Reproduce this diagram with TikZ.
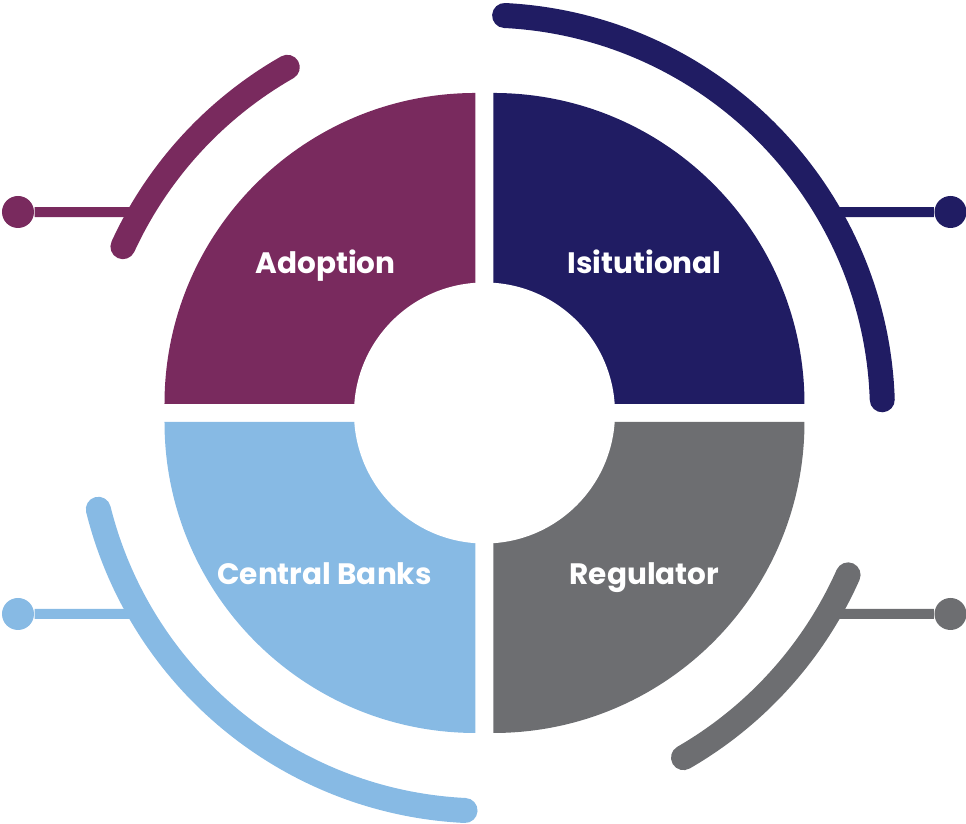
\documentclass[tikz,border=0pt]{standalone}
\usepackage{fontspec}
\setmainfont{Poppins}
\usetikzlibrary{calc}

\definecolor{adoptcol}{HTML}{792A5E}
\definecolor{instcol}{HTML}{201C63}
\definecolor{bankcol}{HTML}{87BAE4}
\definecolor{regcol}{HTML}{6D6E71}

\begin{document}
\begin{tikzpicture}[
    qtext/.style={text=white, font=\fontsize{8.4}{10}\selectfont\bfseries, anchor=base, inner sep=0pt},
    band/.style={line width=0.25cm, line cap=round},
    link/.style={line width=0.1cm},
    dot/.style={circle, inner sep=0pt, minimum size=0.32cm}
]
\useasboundingbox (-4.845,-4.11) rectangle (4.815,4.13);

% Quarter discs
\fill[adoptcol] (-0.09,0.09) -- ++(-3.11,0) arc[start angle=180, end angle=90, radius=3.11] -- cycle;
\fill[instcol] (0.09,0.09) -- ++(0,3.11) arc[start angle=90, end angle=0, radius=3.11] -- cycle;
\fill[regcol] (0.09,-0.09) -- ++(3.11,0) arc[start angle=0, end angle=-90, radius=3.11] -- cycle;
\fill[bankcol] (-0.09,-0.09) -- ++(0,-3.11) arc[start angle=270, end angle=180, radius=3.11] -- cycle;

% Hole in the middle
\fill[white] (0,0) circle (1.305);

% Labels
\node[qtext] (adoption) at (-1.59,1.39) {Adoption};
\node[qtext] (institutional) at (1.60,1.39) {Isitutional};
\node[qtext] (banks) at (-1.60,-1.72) {Central Banks};
\node[qtext] (regulator) at (1.60,-1.72) {Regulator};

% Outer bands
\draw[band, adoptcol] (119.7:3.98) arc[start angle=119.7, end angle=155.3, radius=3.98];
\draw[band, instcol] (87.1:3.98) arc[start angle=87.1, end angle=1.9, radius=3.98];
\draw[band, bankcol] (194:3.98) arc[start angle=194, end angle=267.2, radius=3.98];
\draw[band, regcol] (336:3.98) arc[start angle=336, end angle=300, radius=3.98];

% Connectors
\coordinate (adoptjoin) at (149.7:3.98);
\coordinate (instjoin) at (30.3:3.98);
\coordinate (bankjoin) at (210.3:3.98);
\coordinate (regjoin) at (329.7:3.98);

\node[dot, fill=adoptcol] (adoptdot) at (-4.665,2.01) {};
\node[dot, fill=instcol] (instdot) at (4.66,2.01) {};
\node[dot, fill=bankcol] (bankdot) at (-4.665,-2.01) {};
\node[dot, fill=regcol] (regdot) at (4.66,-2.01) {};

\draw[link, adoptcol] (adoptdot) -- (adoptjoin);
\draw[link, instcol] (instjoin) -- (instdot);
\draw[link, bankcol] (bankdot) -- (bankjoin);
\draw[link, regcol] (regjoin) -- (regdot);

\end{tikzpicture}
\end{document}
